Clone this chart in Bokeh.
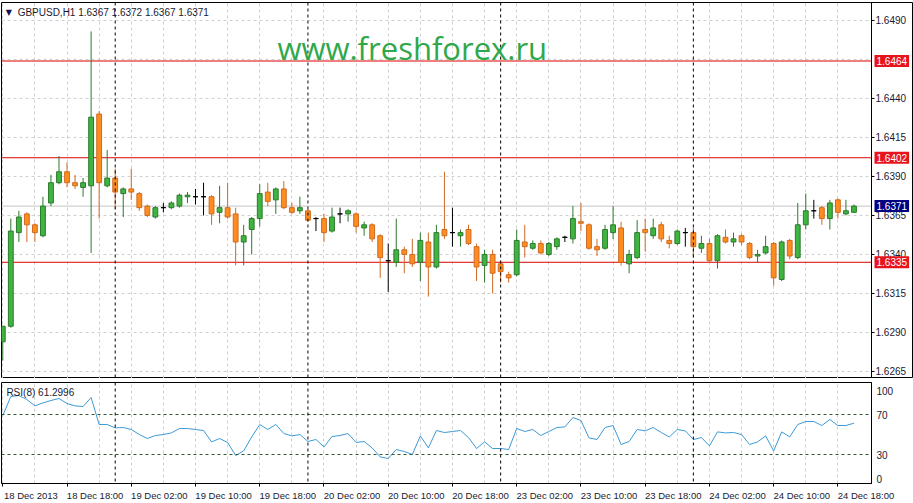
from bokeh.plotting import figure
from bokeh.layouts import column
from bokeh.models import Range1d, FixedTicker, Span, Label, ColumnDataSource
from bokeh.core.properties import value
from bokeh.embed import file_html
from bokeh.resources import INLINE

# ---------------- data ----------------
bar_index = list(range(107))  # hourly bars, 18 Dec 10:00 .. 24 Dec 20:00

opens = [1.6284, 1.6294, 1.6354, 1.6366, 1.6359, 1.6352, 1.6373, 1.6386, 1.6393, 1.6386,
         1.6383, 1.6384, 1.6430, 1.6384, 1.6389, 1.6379, 1.6382, 1.6379, 1.6371, 1.6364,
         1.6370, 1.6370, 1.6371, 1.6377, 1.6377, 1.6377, 1.6377, 1.6367, 1.6370, 1.6366,
         1.6348, 1.6356, 1.6363, 1.6380, 1.6375, 1.6382, 1.6370, 1.6368, 1.6368, 1.6363,
         1.6363, 1.6355, 1.6366, 1.6366, 1.6366, 1.6357, 1.6359, 1.6352, 1.6336, 1.6335,
         1.6343, 1.6340, 1.6335, 1.6348, 1.6332, 1.6356, 1.6354, 1.6352, 1.6356, 1.6345,
         1.6333, 1.6340, 1.6334, 1.6327, 1.6327, 1.6348, 1.6344, 1.6347, 1.6340, 1.6345,
         1.6351, 1.6350, 1.6361, 1.6359, 1.6345, 1.6344, 1.6354, 1.6357, 1.6334, 1.6338,
         1.6356, 1.6352, 1.6359, 1.6349, 1.6347, 1.6354, 1.6354, 1.6344, 1.6347, 1.6336,
         1.6351, 1.6348, 1.6352, 1.6347, 1.6339, 1.6341, 1.6347, 1.6324, 1.6349, 1.6338,
         1.6359, 1.6368, 1.6370, 1.6363, 1.6375, 1.6366, 1.6367]
highs = [1.6294, 1.6363, 1.6368, 1.6367, 1.6360, 1.6377, 1.6391, 1.6403, 1.6399, 1.6391,
         1.6389, 1.6483, 1.6432, 1.6407, 1.6395, 1.6383, 1.6395, 1.6380, 1.6372, 1.6371,
         1.6373, 1.6374, 1.6379, 1.6380, 1.6382, 1.6386, 1.6378, 1.6384, 1.6386, 1.6370,
         1.6359, 1.6364, 1.6385, 1.6386, 1.6383, 1.6387, 1.6373, 1.6377, 1.6369, 1.6364,
         1.6366, 1.6370, 1.6370, 1.6369, 1.6367, 1.6361, 1.6360, 1.6353, 1.6347, 1.6363,
         1.6345, 1.6350, 1.6354, 1.6354, 1.6359, 1.6393, 1.6370, 1.6356, 1.6359, 1.6347,
         1.6343, 1.6343, 1.6336, 1.6329, 1.6356, 1.6359, 1.6349, 1.6349, 1.6348, 1.6351,
         1.6352, 1.6371, 1.6373, 1.6360, 1.6350, 1.6359, 1.6371, 1.6361, 1.6343, 1.6362,
         1.6363, 1.6363, 1.6361, 1.6352, 1.6356, 1.6357, 1.6357, 1.6352, 1.6350, 1.6353,
         1.6356, 1.6354, 1.6353, 1.6348, 1.6343, 1.6352, 1.6348, 1.6349, 1.6350, 1.6373,
         1.6379, 1.6375, 1.6371, 1.6375, 1.6376, 1.6375, 1.6372]
lows = [1.6272, 1.6293, 1.6348, 1.6348, 1.6348, 1.6351, 1.6371, 1.6385, 1.6383, 1.6382,
        1.6377, 1.6341, 1.6363, 1.6383, 1.6369, 1.6364, 1.6375, 1.6368, 1.6364, 1.6363,
        1.6367, 1.6369, 1.6370, 1.6373, 1.6372, 1.6365, 1.6359, 1.6360, 1.6363, 1.6333,
        1.6333, 1.6340, 1.6358, 1.6371, 1.6366, 1.6369, 1.6366, 1.6366, 1.6361, 1.6355,
        1.6348, 1.6354, 1.6360, 1.6361, 1.6354, 1.6352, 1.6348, 1.6325, 1.6316, 1.6332,
        1.6328, 1.6332, 1.6323, 1.6313, 1.6331, 1.6350, 1.6345, 1.6345, 1.6346, 1.6323,
        1.6322, 1.6315, 1.6322, 1.6322, 1.6326, 1.6338, 1.6343, 1.6340, 1.6339, 1.6343,
        1.6348, 1.6347, 1.6355, 1.6343, 1.6339, 1.6343, 1.6350, 1.6333, 1.6328, 1.6337,
        1.6342, 1.6350, 1.6348, 1.6344, 1.6346, 1.6345, 1.6338, 1.6341, 1.6335, 1.6331,
        1.6347, 1.6345, 1.6346, 1.6337, 1.6335, 1.6340, 1.6320, 1.6323, 1.6337, 1.6337,
        1.6356, 1.6363, 1.6359, 1.6356, 1.6363, 1.6365, 1.6367]
closes = [1.6294, 1.6355, 1.6364, 1.6359, 1.6354, 1.6371, 1.6386, 1.6393, 1.6386, 1.6384,
          1.6386, 1.6428, 1.6386, 1.6389, 1.6380, 1.6382, 1.6380, 1.6370, 1.6365, 1.6370,
          1.6370, 1.6373, 1.6378, 1.6378, 1.6377, 1.6377, 1.6366, 1.6370, 1.6364, 1.6348,
          1.6352, 1.6363, 1.6379, 1.6374, 1.6382, 1.6370, 1.6367, 1.6370, 1.6362, 1.6363,
          1.6354, 1.6364, 1.6366, 1.6368, 1.6358, 1.6359, 1.6350, 1.6338, 1.6336, 1.6343,
          1.6340, 1.6334, 1.6349, 1.6332, 1.6354, 1.6352, 1.6354, 1.6354, 1.6347, 1.6332,
          1.6340, 1.6328, 1.6329, 1.6325, 1.6349, 1.6345, 1.6347, 1.6341, 1.6347, 1.6350,
          1.6351, 1.6363, 1.6360, 1.6344, 1.6343, 1.6356, 1.6359, 1.6335, 1.6340, 1.6354,
          1.6354, 1.6357, 1.6350, 1.6347, 1.6355, 1.6354, 1.6345, 1.6347, 1.6336, 1.6352,
          1.6348, 1.6350, 1.6348, 1.6338, 1.6340, 1.6345, 1.6325, 1.6348, 1.6339, 1.6359,
          1.6368, 1.6368, 1.6363, 1.6373, 1.6367, 1.6368, 1.6371]

rsi_values = [69, 88, 89, 85, 78.6, 81.6, 84, 86, 81, 78.6, 78, 87,
              60, 60, 56.6, 57, 55, 50, 46, 49, 50, 51.6, 56, 56,
              55, 54, 42.6, 46, 42, 29, 33.6, 47.6, 60, 55, 60, 51,
              48.6, 50, 43, 45, 37.6, 48, 49, 51, 42, 43, 36.6, 27.6,
              26, 35, 33, 30, 48.6, 36.6, 54, 52, 53, 54, 47, 36,
              42.6, 36, 36, 35, 56, 53, 55, 49, 53, 57, 57.6, 67,
              64, 46.6, 45, 57, 59, 40, 43, 55, 53.6, 57, 52, 47.6,
              55, 53.6, 45, 47, 38.6, 52.6, 51.6, 52, 50, 40, 42.6, 48.6,
              33.6, 52.6, 47.6, 60, 63, 63, 59, 65, 59, 59, 61.2996]

level_prices = [1.6464, 1.6402, 1.6335]
current_price = 1.6371
price_ticks = [1.6265, 1.6290, 1.6315, 1.6340, 1.6365, 1.6390, 1.6415, 1.6440, 1.6490]
price_tick_labels = ["1.6265", "1.6290", "1.6315", "1.6340", "1.6365", "1.6390",
                     "1.6415", "1.6440", "1.6490"]
price_grid = [1.6265, 1.6290, 1.6315, 1.6340, 1.6365, 1.6390, 1.6415, 1.6440, 1.6465, 1.6490]
time_tick_bars = [0, 8, 16, 24, 32, 40, 48, 56, 64, 72, 80, 88, 96, 104]
time_tick_labels = ["18 Dec 2013", "18 Dec 18:00", "19 Dec 02:00", "19 Dec 10:00",
                    "19 Dec 18:00", "20 Dec 02:00", "20 Dec 10:00", "20 Dec 18:00",
                    "23 Dec 02:00", "23 Dec 10:00", "23 Dec 18:00", "24 Dec 02:00",
                    "24 Dec 10:00", "24 Dec 18:00"]
day_separator_bars = [14, 38, 62, 86]
rsi_levels = [30, 70]
rsi_tick_values = [0, 30, 70, 100]
rsi_tick_labels = ["0", "30", "70", "100"]
symbol_title = "GBPUSD,H1  1.6367 1.6372 1.6367 1.6371"
rsi_title = "RSI(8) 61.2996"
watermark = "www.freshforex.ru"

# ---------------- styling / geometry ----------------
FONT = "Liberation Sans"
TXT = "#1a1a30"
UP_FILL, UP_LINE = "#40b440", "#2c7a2c"
DN_FILL, DN_LINE = "#ff8c1e", "#cf6a22"
DOJI = "#000000"
GRID = "#cfcfcf"

PITCH = 8.03            # pixels per hourly bar
X0 = -0.16              # left edge of the panes, in bars
PANE_W = 870            # width of the chart area
MAIN_W = 912            # price pane incl. its price scale
pane_right = X0 + PANE_W / PITCH
scale_x = pane_right + 4 / PITCH

body_top = [max(o, c) for o, c in zip(opens, closes)]
body_bot = [min(o, c) for o, c in zip(opens, closes)]
fills, lines = [], []
for o, c in zip(opens, closes):
    if c > o:
        fills.append(UP_FILL); lines.append(UP_LINE)
    elif c < o:
        fills.append(DN_FILL); lines.append(DN_LINE)
    else:
        fills.append(DOJI); lines.append(DOJI)

src = ColumnDataSource(dict(x=bar_index, o=opens, h=highs, l=lows, c=closes,
                            top=body_top, bot=body_bot, fill=fills, line=lines))

# ---------------- price pane ----------------
p = figure(frame_width=MAIN_W, frame_height=376,
           x_range=Range1d(X0, X0 + MAIN_W / PITCH),
           y_range=Range1d(1.62605, 1.65015), x_axis_location=None,
           y_axis_location=None, output_backend="svg", toolbar_location=None,
           min_border_left=1, min_border_top=2, min_border_bottom=0, min_border_right=0)
p.outline_line_color = "black"
p.ygrid.visible = False
p.xgrid.ticker = FixedTicker(ticks=list(range(0, 108, 4)))
p.xgrid.grid_line_color = GRID
p.xgrid.grid_line_dash = "3 3"

# horizontal grid, current price line and levels end at the price scale
p.segment(x0=X0, y0=price_grid, x1=pane_right, y1=price_grid,
          line_color=GRID, line_dash="3 3", line_width=1)
p.segment(x0=X0, y0=current_price, x1=pane_right, y1=current_price,
          line_color="#c4c4c4", line_width=1)
p.segment(x0=X0, y0=level_prices, x1=pane_right, y1=level_prices,
          line_color="#dd0000", line_width=1)
for b in day_separator_bars:
    p.add_layout(Span(location=b, dimension="height", line_color="black", line_dash="3 3", line_width=1))
p.add_layout(Span(location=pane_right, dimension="height", line_color="black", line_width=1))

# candles
p.segment(x0="x", y0="l", x1="x", y1="h", line_color="line", line_width=1, source=src)
p.vbar(x="x", width=0.6, top="top", bottom="bot", fill_color="fill", line_color="line",
       line_width=1, source=src)

# price scale
p.segment(x0=pane_right, y0=price_ticks, x1=pane_right + 3 / PITCH, y1=price_ticks,
          line_color="black", line_width=1)
p.text(x=scale_x, y=price_ticks, text=price_tick_labels, text_font=value(FONT),
       text_font_size="10px", text_color=TXT, text_align="left", text_baseline="middle")

for lv in level_prices:
    p.add_layout(Label(x=pane_right + 3 / PITCH, y=lv, text=f"{lv:.4f}", text_font=FONT,
                       text_font_size="10px", text_color="white", background_fill_color="#e8141c",
                       text_align="left", text_baseline="middle", padding=2))
p.add_layout(Label(x=pane_right + 3 / PITCH, y=current_price, text=f"{current_price:.4f}",
                   text_font=FONT, text_font_size="10px", text_color="white",
                   background_fill_color="#000080", text_align="left", text_baseline="middle",
                   padding=2))

p.add_layout(Label(x=0.75, y=1.64951, text="\u25bc", text_font="DejaVu Sans", text_font_size="8px",
                   text_color="#101050", text_align="center", text_baseline="middle"))
p.add_layout(Label(x=1.85, y=1.64951, text=symbol_title, text_font=FONT, text_font_size="10px",
                   text_color=TXT, text_align="left", text_baseline="middle"))
p.add_layout(Label(x=34.2, y=1.64721, text=watermark, text_font="Open Sans", text_font_size="31px",
                   text_color="#2ea84a", text_align="left", text_baseline="alphabetic"))

# ---------------- RSI pane ----------------
r = figure(frame_width=PANE_W, frame_height=101, x_range=Range1d(X0, pane_right),
           y_range=Range1d(1, 102), y_axis_location="right", output_backend="svg",
           toolbar_location=None, min_border_left=1, min_border_top=4, min_border_bottom=0,
           min_border_right=42)
r.outline_line_color = "black"

# the terminal draws the 0 / 100 labels just inside the pane
edge_nudge = {0: 6, 100: -6}
rsi_tick_pos = [v + edge_nudge.get(v, 0) for v in rsi_tick_values]
r.yaxis.ticker = FixedTicker(ticks=rsi_tick_pos)
r.yaxis.major_label_overrides = {pos: lab for pos, lab in zip(rsi_tick_pos, rsi_tick_labels)}
r.yaxis.major_label_text_font = FONT
r.yaxis.major_label_text_font_size = "10px"
r.yaxis.major_label_text_color = TXT
r.yaxis.major_tick_out = 0
r.yaxis.major_tick_in = 0
r.yaxis.minor_tick_line_color = None
r.yaxis.major_label_standoff = 5
r.yaxis.axis_line_color = "black"

label_shift = 3.5
time_tick_pos = [b + label_shift for b in time_tick_bars]
r.xaxis.ticker = FixedTicker(ticks=time_tick_pos, minor_ticks=time_tick_bars)
r.xaxis.major_label_overrides = {pos: lab for pos, lab in zip(time_tick_pos, time_tick_labels)}
r.xaxis.major_label_text_font = FONT
r.xaxis.major_label_text_font_size = "9.5px"
r.xaxis.major_label_text_color = TXT
r.xaxis.major_tick_line_color = None
r.xaxis.major_tick_out = 0
r.xaxis.major_tick_in = 0
r.xaxis.minor_tick_in = 0
r.xaxis.minor_tick_out = 3
r.xaxis.minor_tick_line_color = "black"
r.xaxis.major_label_standoff = 3
r.xaxis.axis_line_color = "black"

r.xgrid.ticker = FixedTicker(ticks=list(range(0, 108, 4)))
r.xgrid.grid_line_color = GRID
r.xgrid.grid_line_dash = "3 3"
r.ygrid.visible = False

for lv in rsi_levels:
    r.add_layout(Span(location=lv, dimension="width", line_color="#2f5a2f", line_dash="3 3", line_width=1))
for b in day_separator_bars:
    r.add_layout(Span(location=b, dimension="height", line_color="black", line_dash="3 3", line_width=1))

r.line(bar_index, rsi_values, line_color="#3d9ad4", line_width=1)

r.add_layout(Label(x=0.45, y=92, text=rsi_title, text_font=FONT, text_font_size="10px",
                   text_color=TXT, text_align="left", text_baseline="middle"))

layout = column(p, r, spacing=0)
open("out.html", "w").write(file_html(layout, INLINE))
